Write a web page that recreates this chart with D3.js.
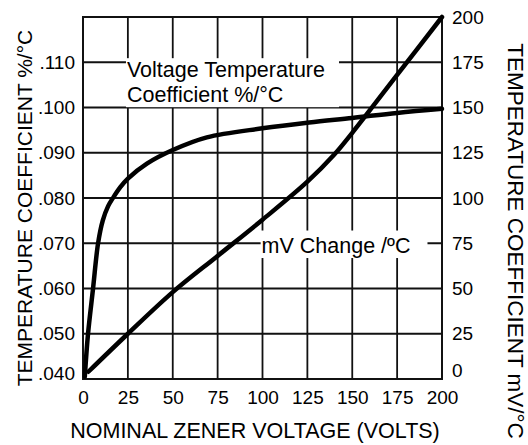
<!DOCTYPE html>
<html>
<head>
<meta charset="utf-8">
<script src="https://cdn.jsdelivr.net/npm/d3@7"></script>
<style>
  body { margin: 0; background: #fff; }
  svg { display: block; }
  text { font-family: Arial, "Liberation Sans", sans-serif; fill: #000; }
</style>
</head>
<body>
<div id="chart"></div>
<script>
// zener voltage (V) vs temperature coefficient (%/C), left axis
const voltsTC = [1, 2.8, 5.6, 8.4, 11, 14, 17, 21, 25, 35.6, 50, 69, 100, 126, 150, 175, 200];
const tcPct = [.0405, .050, .060, .070, .0750, .0782, .0802, .0825, .0843, .0876, .0906, .0934, .0954, .0967, .0977, .0988, .0997];

// zener voltage (V) vs mV change per C, right axis
const voltsMV = [3, 25, 50, 75, 100, 125, 140, 150, 175, 200];
const mvChange = [4, 25, 48, 68, 88, 109, 124, 136, 168, 200];

const xTicks = [0, 25, 50, 75, 100, 125, 150, 175, 200];
const leftTicks = [.040, .050, .060, .070, .080, .090, .100, .110];
const rightTicks = [0, 25, 50, 75, 100, 125, 150, 175, 200];

const W = 528, H = 445;
const margin = { top: 17, right: 86, bottom: 66, left: 83 };
const w = W - margin.left - margin.right;
const h = H - margin.top - margin.bottom;

const svg = d3.select("#chart").append("svg")
  .attr("width", W)
  .attr("height", H);

const chart = svg.append("g")
  .attr("transform", `translate(${margin.left},${margin.top})`);

const x = d3.scaleLinear().domain([0, 200]).range([0, w]);
const yL = d3.scaleLinear().domain([.040, .120]).range([h, 0]);
const yR = d3.scaleLinear().domain([0, 200]).range([h, 0]);

// grid
const grid = chart.append("g").attr("stroke", "#111").attr("stroke-width", 1.8);
grid.selectAll(".vx")
  .data(xTicks.slice(1, -1))
  .join("line")
  .attr("x1", d => x(d)).attr("x2", d => x(d))
  .attr("y1", 0).attr("y2", h);
grid.selectAll(".hy")
  .data(rightTicks.slice(1, -1))
  .join("line")
  .attr("y1", d => yR(d)).attr("y2", d => yR(d))
  .attr("x1", 0).attr("x2", w);
chart.append("rect")
  .attr("width", w).attr("height", h)
  .attr("fill", "none").attr("stroke", "#111").attr("stroke-width", 2);

// axes (labels only, the grid does the lines)
const fmtL = d => d3.format(".3f")(d).replace(/^0/, "");
const leftAxis = chart.append("g")
  .call(d3.axisLeft(yL).tickValues(leftTicks).tickFormat(fmtL).tickSize(0).tickPadding(8));
const rightAxis = chart.append("g")
  .attr("transform", `translate(${w},0)`)
  .call(d3.axisRight(yR).tickValues(rightTicks).tickSize(0).tickPadding(10));
const bottomAxis = chart.append("g")
  .attr("transform", `translate(0,${h})`)
  .call(d3.axisBottom(x).tickValues(xTicks).tickSize(0).tickPadding(12));

[leftAxis, rightAxis, bottomAxis].forEach(a => {
  a.select(".domain").remove();
  a.selectAll("text")
    .style("font-family", "Arial, 'Liberation Sans', sans-serif")
    .attr("font-size", 19)
    .attr("fill", "#222");
});
// bottom-most labels on the side axes sit a bit above the frame
leftAxis.selectAll(".tick").filter(d => d === .040).select("text").attr("dy", "0.0em");
rightAxis.selectAll(".tick").filter(d => d === 0).select("text").attr("dy", "-0.15em");

// axis titles
svg.append("text")
  .attr("x", 255).attr("y", 438)
  .attr("text-anchor", "middle")
  .attr("font-size", 21.5)
  .text("NOMINAL ZENER VOLTAGE (VOLTS)");
svg.append("text")
  .attr("transform", "translate(32,208) rotate(-90)")
  .attr("text-anchor", "middle")
  .attr("font-size", 21)
  .text("TEMPERATURE COEFFICIENT %/°C");
svg.append("text")
  .attr("transform", "translate(508,241) rotate(90)")
  .attr("text-anchor", "middle")
  .attr("font-size", 22.5)
  .text("TEMPERATURE COEFFICIENT mV/°C");

// in-plot labels with white boxes that break the grid
function boxLabel(lines, vx, vy, padR, padT) {
  const g = chart.append("g");
  const rect = g.append("rect").attr("fill", "#fff");
  const t = g.append("text")
    .attr("x", x(vx)).attr("y", vy)
    .attr("font-size", 21.5);
  lines.forEach((s, i) => {
    t.append("tspan").attr("x", x(vx)).attr("dy", i ? 25 : 0).text(s);
  });
  const b = t.node().getBBox();
  rect.attr("x", b.x - 1).attr("y", b.y - padT)
    .attr("width", b.width + 1 + padR).attr("height", b.height + padT);
  return g;
}
boxLabel(["Voltage Temperature", "Coefficient %/\u00B0C"], 24.5, yL(.1067), 14, 0);
boxLabel(["mV Change /\u00BAC"], 99.5, yR(69.6), 17, 3.5);

// curves
const line = d3.line().curve(d3.curveCatmullRom.alpha(0.5));
chart.append("path")
  .attr("d", line(voltsTC.map((v, i) => [x(v), yL(tcPct[i])])))
  .attr("fill", "none").attr("stroke", "#000").attr("stroke-width", 4.5)
  .attr("stroke-linecap", "round");
chart.append("path")
  .attr("d", line(voltsMV.map((v, i) => [x(v), yR(mvChange[i])])))
  .attr("fill", "none").attr("stroke", "#000").attr("stroke-width", 4.5)
  .attr("stroke-linecap", "round");
</script>
</body>
</html>
